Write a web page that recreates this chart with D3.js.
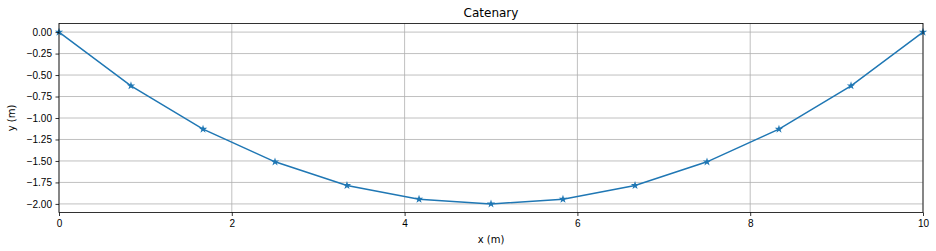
<!DOCTYPE html>
<html>
<head>
<meta charset="utf-8">
<script src="https://cdn.jsdelivr.net/npm/d3@7"></script>
<style>
  body { margin: 0; background: #fff; }
  svg { display: block; font-family: "DejaVu Sans", sans-serif; }
  .tick text { font-size: 10px; fill: #000; }
  .grid line { stroke: #b0b0b0; stroke-width: 0.8; }
</style>
</head>
<body>
<div id="chart"></div>
<script>
// catenary points
var xValues = [0, 0.833, 1.667, 2.5, 3.333, 4.167, 5, 5.833, 6.667, 7.5, 8.333, 9.167, 10];
var yValues = [0, -0.625, -1.13, -1.51, -1.785, -1.945, -2.0, -1.945, -1.785, -1.51, -1.13, -0.625, 0];
var xTicks = [0, 2, 4, 6, 8, 10];
var yTicks = [0, -0.25, -0.5, -0.75, -1.0, -1.25, -1.5, -1.75, -2.0];

var width = 936, height = 251,
    margin = { top: 23.5, right: 13, bottom: 38.5, left: 59 },
    w = width - margin.left - margin.right,
    h = height - margin.top - margin.bottom;

var svg = d3.select("#chart").append("svg")
    .attr("width", width)
    .attr("height", height);

var x = d3.scaleLinear().domain([0, 10]).range([0, w]);
var y = d3.scaleLinear().domain([-2.1, 0.1]).range([h, 0]);

var g = svg.append("g")
    .attr("transform", "translate(" + margin.left + "," + margin.top + ")");

var fmt = function(d) { return d3.format(".2f")(d).replace("-", "\u2212"); };

// grid
g.append("g").attr("class", "grid")
  .selectAll("line").data(xTicks).enter().append("line")
    .attr("x1", (d) => x(d)).attr("x2", (d) => x(d))
    .attr("y1", 0).attr("y2", h);
g.append("g").attr("class", "grid")
  .selectAll("line").data(yTicks).enter().append("line")
    .attr("y1", (d) => y(d)).attr("y2", (d) => y(d))
    .attr("x1", 0).attr("x2", w);

// line + markers
var pts = xValues.map(function(d, i) { return [d, yValues[i]]; });
g.append("path")
    .datum(pts)
    .attr("fill", "none")
    .attr("stroke", "#1f77b4")
    .attr("stroke-width", 1.5)
    .attr("d", d3.line().x((d) => x(d[0])).y((d) => y(d[1])));

g.selectAll(".pt").data(pts).enter().append("path")
    .attr("class", "pt")
    .attr("transform", (d) => "translate(" + x(d[0]) + "," + y(d[1]) + ")")
    .attr("d", d3.symbol().type(d3.symbolStar).size(22))
    .attr("fill", "#1f77b4");

// axes
var xAxis = g.append("g")
    .attr("transform", "translate(0," + h + ")")
    .call(d3.axisBottom(x).tickValues(xTicks).tickSize(3.5).tickPadding(3.5).tickFormat(d3.format("d")));
var yAxis = g.append("g")
    .call(d3.axisLeft(y).tickValues(yTicks).tickSize(3.5).tickPadding(3.5).tickFormat(fmt));
[xAxis, yAxis].forEach(function(a) {
  a.select(".domain").remove();
  a.selectAll(".tick line").attr("stroke", "#000").attr("stroke-width", 0.8);
});

// frame
g.append("rect")
    .attr("width", w).attr("height", h)
    .attr("fill", "none").attr("stroke", "#000").attr("stroke-width", 0.8);

// labels
svg.append("text")
    .attr("x", margin.left + w / 2).attr("y", 17)
    .attr("text-anchor", "middle")
    .attr("font-size", "12px")
    .text("Catenary");
svg.append("text")
    .attr("x", margin.left + w / 2).attr("y", 243)
    .attr("text-anchor", "middle")
    .attr("font-size", "10px")
    .text("x (m)");
svg.append("text")
    .attr("transform", "translate(15," + (margin.top + h / 2) + ") rotate(-90)")
    .attr("text-anchor", "middle")
    .attr("font-size", "10px")
    .text("y (m)");
</script>
</body>
</html>
